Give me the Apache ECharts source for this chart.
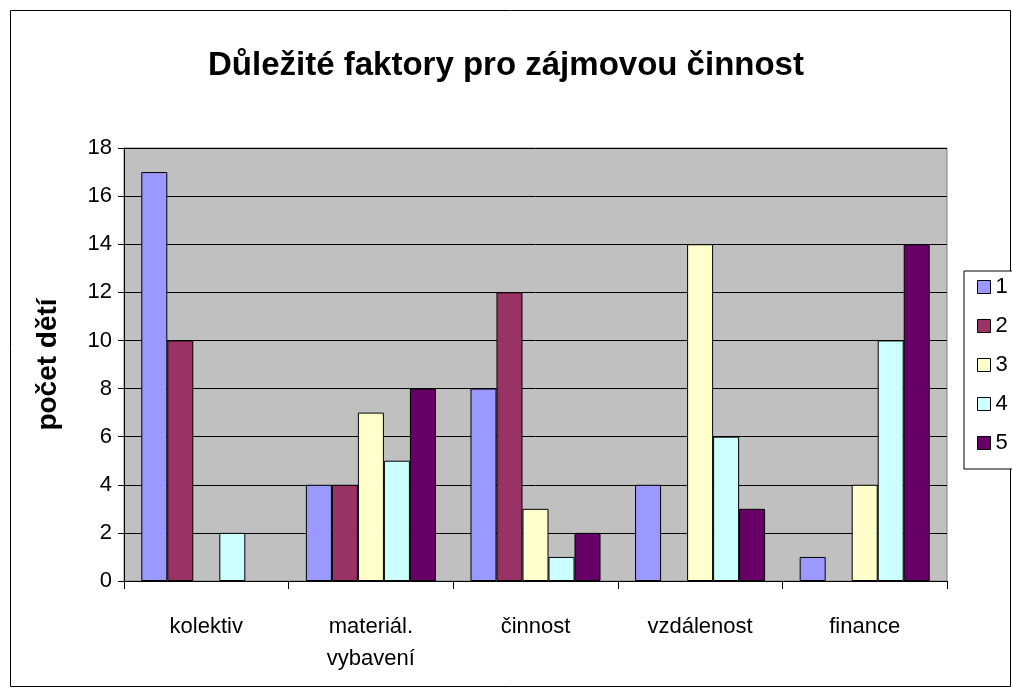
<!DOCTYPE html>
<html>
<head>
<meta charset="utf-8">
<script src="https://cdn.jsdelivr.net/npm/echarts@6/dist/echarts.min.js"></script>
<style>
  html, body { margin: 0; padding: 0; background: #fff; }
  #chart { width: 1012px; height: 688px; }
</style>
</head>
<body>
<div id="chart"></div>
<script>
var categories = ['kolektiv', 'materiál.\nvybavení', 'činnost', 'vzdálenost', 'finance'];
var seriesNames = ['1', '2', '3', '4', '5'];
var s1 = [17, 4, 8, 4, 1];
var s2 = [10, 4, 12, 0, 0];
var s3 = [0, 7, 3, 14, 4];
var s4 = [2, 5, 1, 6, 10];
var s5 = [0, 8, 2, 3, 14];
var colors = ['#9999FF', '#993366', '#FFFFCC', '#CCFFFF', '#660066'];

var chart = echarts.init(document.getElementById('chart'));
var allData = [s1, s2, s3, s4, s5];

var series = [];
for (var i = 0; i < seriesNames.length; i++) {
    series.push({
        name: seriesNames[i],
        type: 'bar',
        data: allData[i].map(function (v) { return v === 0 ? null : v; }),
        barGap: '0%',
        barCategoryGap: '21%',
        itemStyle: { color: colors[i], borderColor: '#000', borderWidth: 1 }
    });
}

var option = {
    animation: false,
    textStyle: { fontFamily: 'Liberation Sans, Arial, sans-serif' },
    title: {
        text: 'Důležité faktory pro zájmovou činnost',
        left: 'center',
        top: 44,
        textStyle: { fontSize: 33, fontWeight: 'bold', color: '#000' }
    },
    graphic: [{
        type: 'rect',
        shape: { x: 10.5, y: 10.5, width: 1000, height: 676 },
        style: { fill: 'none', stroke: '#000', lineWidth: 1 },
        z: -1
    }],
    legend: {
        orient: 'vertical',
        left: 964,
        top: 271,
        itemWidth: 13,
        itemHeight: 13,
        itemGap: 17,
        padding: [5, 40, 15, 13],
        borderColor: '#000',
        borderWidth: 1,
        backgroundColor: '#fff',
        icon: 'rect',
        textStyle: { fontSize: 22, color: '#000' },
        data: seriesNames.map(function (n, i) {
            return { name: n, itemStyle: { color: colors[i], borderColor: '#000', borderWidth: 1 } };
        })
    },
    grid: {
        left: 124, right: 65, top: 148, bottom: 107,
        show: true,
        backgroundColor: '#C0C0C0',
        borderColor: '#808080',
        borderWidth: 1
    },
    xAxis: {
        type: 'category',
        data: categories,
        axisLine: { lineStyle: { color: '#000', width: 1 } },
        axisTick: { show: true, length: 8, lineStyle: { color: '#000' } },
        axisLabel: { fontSize: 22, color: '#000', margin: 30, lineHeight: 32 }
    },
    yAxis: {
        type: 'value',
        min: 0,
        max: 18,
        interval: 2,
        name: 'počet dětí',
        nameLocation: 'middle',
        nameGap: 62,
        nameTextStyle: { fontSize: 28, fontWeight: 'bold', color: '#000' },
        axisLine: { show: true, lineStyle: { color: '#000' } },
        axisTick: { show: true, length: 6, lineStyle: { color: '#000' } },
        axisLabel: { fontSize: 22, color: '#000', margin: 12 },
        splitLine: { lineStyle: { color: '#000', width: 1 } }
    },
    series: series
};
chart.setOption(option);
</script>
</body>
</html>
